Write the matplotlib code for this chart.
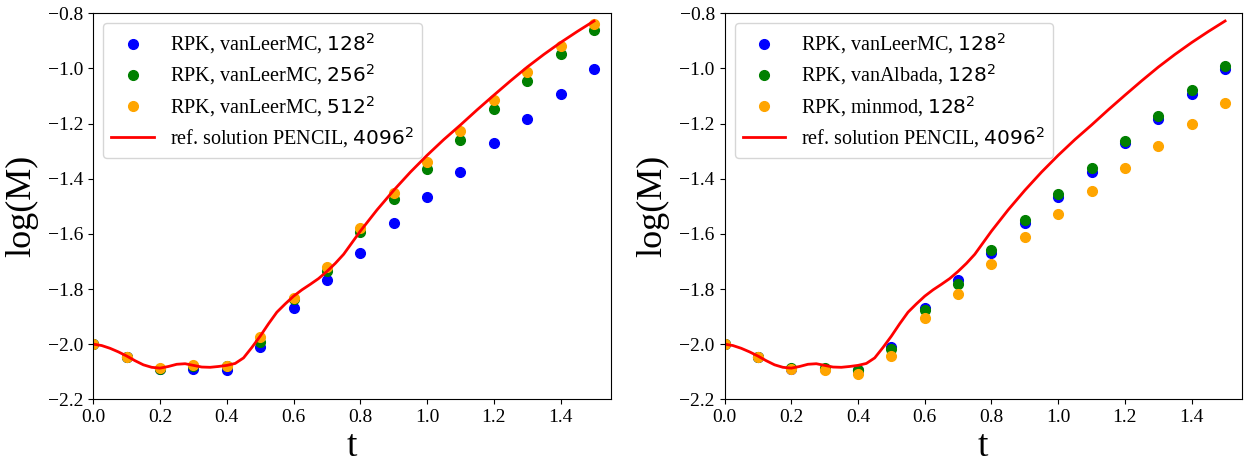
import numpy as np
import matplotlib
matplotlib.use("Agg")
import matplotlib.pyplot as plt

plt.rcParams["font.family"] = "serif"
plt.rcParams["font.serif"] = ["Liberation Serif", "DejaVu Serif"]
plt.rcParams["mathtext.fontset"] = "dejavusans"

# ------------------------------------------------------------------
# DATA
# ------------------------------------------------------------------
t = [0.0, 0.1, 0.2, 0.3, 0.4, 0.5, 0.6, 0.7, 0.8, 0.9, 1.0, 1.1, 1.2, 1.3, 1.4, 1.5]

vlmc_128 = [-2.000, -2.046, -2.089, -2.089, -2.095, -2.012, -1.869, -1.767, -1.668, -1.562,
            -1.467, -1.375, -1.271, -1.184, -1.092, -1.002]
vlmc_256 = [-2.000, -2.046, -2.091, -2.080, -2.079, -1.992, -1.835, -1.735, -1.593, -1.474,
            -1.365, -1.259, -1.146, -1.044, -0.946, -0.860]
vlmc_512 = [-2.000, -2.046, -2.086, -2.076, -2.080, -1.974, -1.831, -1.720, -1.579, -1.453,
            -1.340, -1.226, -1.115, -1.013, -0.919, -0.839]

valbada_128 = [-2.000, -2.046, -2.087, -2.085, -2.093, -2.017, -1.875, -1.783, -1.659, -1.550,
               -1.457, -1.361, -1.264, -1.171, -1.078, -0.990]
minmod_128 = [-2.000, -2.046, -2.090, -2.092, -2.108, -2.042, -1.906, -1.817, -1.709, -1.611,
              -1.527, -1.445, -1.360, -1.280, -1.202, -1.124]

# reference solution (PENCIL, 4096^2)
t_ref = [0.0, 0.025, 0.05, 0.075, 0.1, 0.125, 0.15, 0.175, 0.2, 0.225, 0.25, 0.275, 0.3,
         0.325, 0.35, 0.375, 0.4, 0.425, 0.45, 0.475, 0.5, 0.525, 0.55, 0.575, 0.6, 0.625,
         0.65, 0.675, 0.7, 0.725, 0.75, 0.775, 0.8, 0.85, 0.9, 0.95, 1.0, 1.05, 1.1, 1.15,
         1.2, 1.25, 1.3, 1.35, 1.4, 1.45, 1.5]
m_ref = [-2.000, -2.005, -2.015, -2.028, -2.043, -2.060, -2.075, -2.084, -2.087, -2.081,
         -2.073, -2.071, -2.077, -2.083, -2.084, -2.081, -2.077, -2.070, -2.050, -2.012,
         -1.971, -1.926, -1.884, -1.854, -1.826, -1.803, -1.783, -1.762, -1.736, -1.707,
         -1.674, -1.632, -1.590, -1.513, -1.442, -1.376, -1.315, -1.258, -1.205, -1.150,
         -1.097, -1.045, -0.995, -0.949, -0.906, -0.866, -0.828]

# ------------------------------------------------------------------
# PLOT
# ------------------------------------------------------------------
fig = plt.figure(figsize=(12.44, 4.63), dpi=100)
ax1 = fig.add_axes([0.0750, 0.1376, 0.4159, 0.8337])
ax2 = fig.add_axes([0.5824, 0.1376, 0.4158, 0.8337])

panels = [
    (ax1, [(vlmc_128, "blue", r"RPK, vanLeerMC, $128^2$"),
           (vlmc_256, "green", r"RPK, vanLeerMC, $256^2$"),
           (vlmc_512, "orange", r"RPK, vanLeerMC, $512^2$")]),
    (ax2, [(vlmc_128, "blue", r"RPK, vanLeerMC, $128^2$"),
           (valbada_128, "green", r"RPK, vanAlbada, $128^2$"),
           (minmod_128, "orange", r"RPK, minmod, $128^2$")]),
]

for ax, series in panels:
    for vals, col, lab in series:
        ax.plot(t, vals, "o", color=col, markersize=7, label=lab)
    ax.plot(t_ref, m_ref, "-", color="red", linewidth=2, label=r"ref. solution PENCIL, $4096^2$")
    ax.set_xlim(0, 1.55)
    ax.set_ylim(-2.2, -0.8)
    ax.set_xticks(np.arange(0, 1.41, 0.2))
    ax.set_yticks(np.arange(-2.2, -0.79, 0.2))
    ax.tick_params(labelsize=14)
    ax.set_xlabel("t", fontsize=27)
    ax.set_ylabel("log(M)", fontsize=26)
    ax.xaxis.set_label_coords(0.5, -0.078)
    ax.yaxis.set_label_coords(-0.107, 0.5)
    ax.legend(loc="upper left", fontsize=14.5, handlelength=2.1, labelspacing=0.32)

fig.savefig("out.png", dpi=100)
